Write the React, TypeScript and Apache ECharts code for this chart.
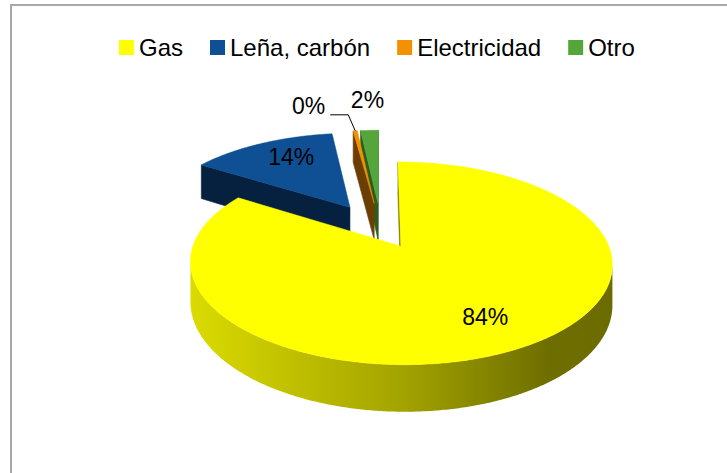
import React, { useEffect, useRef } from "react";
import * as echarts from "echarts";

// ---- data ----
const categories = ["Gas", "Leña, carbón", "Electricidad", "Otro"];
const values = [84.0, 13.9, 0.4, 1.7];

// ---- styles ----
const topColors = ["#FFFF00", "#0E5093", "#F39200", "#55A63A"];
const faceColors = ["#7A7A00", "#05213F", "#6B3E04", "#2D5C1D"];
const explodeDist = [40, 60, 60, 60];
const drawOrder = [5, 4, 3, 2];

const GEO = { cx: 381, cy: 229.6, R: 202, D: 1230, a: 0.46, h: 38 };
const FONT = "'Liberation Sans', Arial, sans-serif";
const DEG = Math.PI / 180;

function proj(X: number, Y: number, z: number): number[] {
  const k = GEO.D / (GEO.D + Y);
  return [GEO.cx + X * k, GEO.cy - (GEO.a * Y + z) * k];
}

function shade(hex: string, f: number): string {
  const n = parseInt(hex.slice(1), 16);
  const r = Math.round(((n >> 16) & 255) * f);
  const g = Math.round(((n >> 8) & 255) * f);
  const b = Math.round((n & 255) * f);
  return `rgb(${r},${g},${b})`;
}

function wallFill(i: number) {
  const c = topColors[i];
  return new echarts.graphic.LinearGradient(0, 0, 1, 0, [
    { offset: 0, color: shade(c, 0.86) },
    { offset: 0.5, color: shade(c, 0.64) },
    { offset: 0.85, color: shade(c, 0.43) },
    { offset: 1, color: shade(c, 0.42) },
  ]);
}

function buildSlice(i: number, total: number, startDeg: number) {
  const v = values[i];
  const share = (v / total) * 100;
  const sweep = (v / total) * 360;
  const t1 = startDeg * DEG;
  const t2 = (startDeg + sweep) * DEG;
  const mid = (t1 + t2) / 2;
  const e = explodeDist[i];
  const ox = e * Math.sin(mid);
  const oy = e * Math.cos(mid);
  const { R, D, h } = GEO;
  const P = (t: number, r: number, z: number) =>
    proj(ox + r * Math.sin(t), oy + r * Math.cos(t), z);
  const n = Math.max(4, Math.ceil(sweep / 0.5));
  const ts: number[] = [];
  for (let j = 0; j <= n; j++) ts.push(t1 + ((t2 - t1) * j) / n);

  const children: any[] = [];
  const faceVis = (nx: number, ny: number) => nx * (0 - ox) + ny * (-D - oy) > 0;
  const radialFace = (t: number) => ({
    type: "polygon",
    shape: { points: [P(t, 0, 0), P(t, R, 0), P(t, R, -h), P(t, 0, -h)] },
    style: { fill: faceColors[i], stroke: faceColors[i], lineWidth: 0.6 },
  });
  if (faceVis(Math.sin(t1 - Math.PI / 2), Math.cos(t1 - Math.PI / 2))) children.push(radialFace(t1));
  if (faceVis(Math.sin(t2 + Math.PI / 2), Math.cos(t2 + Math.PI / 2))) children.push(radialFace(t2));

  const wallVis = (t: number) => -ox * Math.sin(t) - (D + oy) * Math.cos(t) - R > 0;
  const runs: number[][] = [];
  let run: number[] = [];
  for (const t of ts) {
    if (wallVis(t)) run.push(t);
    else {
      if (run.length > 1) runs.push(run);
      run = [];
    }
  }
  if (run.length > 1) runs.push(run);
  for (const r of runs) {
    const pts = r.map((t) => P(t, R, 0)).concat(r.slice().reverse().map((t) => P(t, R, -h)));
    children.push({ type: "polygon", shape: { points: pts }, style: { fill: wallFill(i) } });
  }

  const topPts = [P(0, 0, 0)].concat(ts.map((t) => P(t, R, 0)));
  children.push({
    type: "polygon",
    shape: { points: topPts },
    style: { fill: topColors[i], stroke: topColors[i], lineWidth: 0.5 },
  });

  const label = Math.round(share) + "%";
  const textStyle = { text: label, fill: "#000", fontSize: 23, fontFamily: FONT };
  if (share >= 5) {
    const p = P(mid + (share < 50 ? 4 * DEG : 0), 0.73 * R, 0);
    children.push({
      type: "text",
      x: p[0],
      y: p[1],
      style: { ...textStyle, align: "center", verticalAlign: "middle" },
    });
  } else {
    const anchor = P(mid, R, 0);
    if (share < 1) {
      const elbow = [anchor[0] - 7, anchor[1] - 16];
      const end = [elbow[0] - 18, elbow[1]];
      children.push({
        type: "polyline",
        shape: { points: [anchor, elbow, end] },
        style: { stroke: "#000", lineWidth: 1, fill: "none" },
      });
      children.push({
        type: "text",
        x: end[0] - 5,
        y: end[1] - 9,
        style: { ...textStyle, align: "right", verticalAlign: "middle" },
      });
    } else {
      children.push({
        type: "text",
        x: anchor[0] - 2,
        y: anchor[1] - 30,
        style: { ...textStyle, align: "center", verticalAlign: "middle" },
      });
    }
  }
  return children;
}

export default function App() {
  const ref = useRef<HTMLDivElement>(null);
  useEffect(() => {
    const chart = echarts.init(ref.current!, null, { renderer: "svg" });
    const total = values.reduce((s, v) => s + v, 0);
    const starts: number[] = [];
    let acc = 0;
    values.forEach((v) => {
      starts.push((acc / total) * 360);
      acc += v;
    });
    const option: any = {
      animation: false,
      color: topColors,
      graphic: [
        {
          type: "rect",
          silent: true,
          z: 0,
          shape: { x: 11, y: 5, width: 760, height: 520 },
          style: { fill: "none", stroke: "#A8A8A8", lineWidth: 2 },
        },
      ],
      legend: {
        data: categories,
        left: 114,
        top: 30,
        icon: "rect",
        itemWidth: 15,
        itemHeight: 15,
        itemGap: 27,
        selectedMode: false,
        textStyle: { fontFamily: FONT, fontSize: 24, color: "#000", lineHeight: 25 },
      },
      series: categories.map((name, i) => ({
        type: "custom",
        name,
        coordinateSystem: "none",
        silent: true,
        z: drawOrder[i],
        itemStyle: { color: topColors[i] },
        data: [[values[i]]],
        renderItem: () => ({ type: "group", children: buildSlice(i, total, starts[i]) }),
      })),
    };
    chart.setOption(option);
    return () => chart.dispose();
  }, []);
  return (
    <div
      ref={ref}
      style={{ position: "absolute", left: 0, top: 0, width: 727, height: 473, background: "#fff" }}
    />
  );
}
